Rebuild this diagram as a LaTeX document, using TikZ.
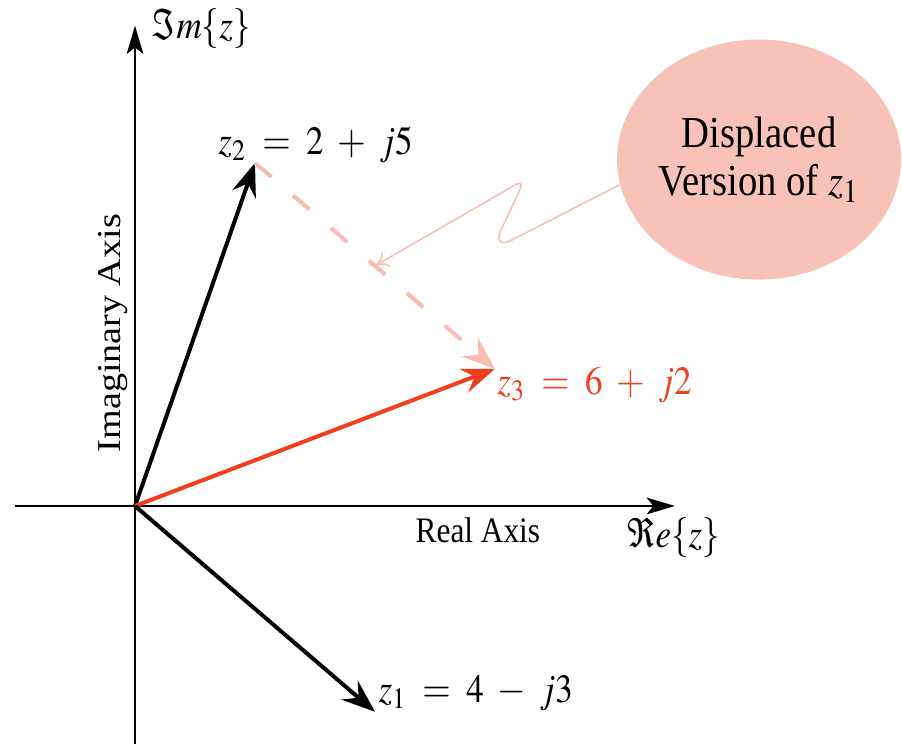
\documentclass[tikz,border=0pt]{standalone}
\usepackage{mathptmx}
\usepackage{fontspec}
\setmainfont{Liberation Serif}
\usetikzlibrary{arrows.meta,shapes.geometric,calc}
\DeclareSymbolFont{cmops}{OT1}{cmr}{m}{n}
\DeclareSymbolFont{cmsym}{OMS}{cmsy}{m}{n}
\DeclareMathSymbol{=}{\mathrel}{cmops}{"3D}
\DeclareMathSymbol{+}{\mathbin}{cmops}{"2B}
\DeclareMathSymbol{-}{\mathbin}{cmsym}{"00}
\thickmuskip=8mu plus 2mu\relax
\medmuskip=7mu plus 2mu minus 2mu\relax
\definecolor{vred}{RGB}{240,62,30}
\definecolor{vpink}{RGB}{248,188,178}
\definecolor{bubblefill}{RGB}{248,194,184}
\tikzset{
  axisline/.style={line width=0.65pt,-{Stealth[length=8.5pt,width=5pt,inset=2pt]}},
  vecline/.style={line width=1.2pt,-{Stealth[length=10pt,width=7.5pt,inset=3.5pt]}},
  dashvec/.style={vpink,line width=1.2pt,dash pattern=on 6.5pt off 8.5pt,-{Stealth[length=10pt,width=7.5pt,inset=3.5pt]}},
  snakeline/.style={vpink,line width=0.45pt,-{To[length=4pt,width=5pt]}},
  bubble/.style={ellipse,fill=bubblefill,minimum width=84pt,minimum height=63pt,inner sep=0pt,align=center,font=\fontsize{11.6}{12.5}\selectfont},
  lbl/.style={inner sep=0pt,anchor=base west,font=\fontsize{10.5}{12}\selectfont}
}
\begin{document}
\begin{tikzpicture}[x=18pt,y=18pt,yscale=1.1433,transform shape]
\useasboundingbox (-2.25,-3.455) rectangle (12.783,7.376);
\coordinate (O) at (0,0);
\coordinate (z1) at (4,-3);
\coordinate (z2) at (2,5);
\coordinate (z3) at (6,2);
\coordinate (xs) at (-2,0);
\coordinate (xe) at (9,0);
\coordinate (ys) at (0,-3.5);
\coordinate (ye) at (0,7);
% axes
\draw[axisline] (xs) -- (xe);
\draw[axisline] (ys) -- (ye);
\node[lbl] (imlbl) at (0.283,6.82) {$\Im m\{z\}$};
\node[lbl] (relbl) at (8.2,-0.598) {$\Re e\{z\}$};
\node[lbl,font=\fontsize{9.4}{11}\selectfont] (realaxis) at (4.667,-0.539) {Real Axis};
\node[inner sep=0pt,rotate=90] (imagaxis) at (-0.37,2.52) {Imaginary Axis};
% vectors
\draw[vecline] (O) -- (z2);
\draw[vecline,vred] (O) -- (z3);
\draw[vecline] (O) -- (z1);
\draw[dashvec] (z2) -- (z3);
\coordinate (mid) at ($(z2)!0.5!(z3)$);
% labels
\node[lbl] (z2lbl) at (1.38,5.12) {$z_2 = 2 + j5$};
\node[lbl,text=vred] (z3lbl) at (6.03,1.62) {$z_3 = 6 + j2$};
\node[lbl] (z1lbl) at (4.05,-2.87) {$z_1 = 4 - j3$};
% bubble
\node[bubble] (bub) at (10.4,5.05) {Displaced\\Version of $z_1$};
\draw[snakeline] (bub.189) -- (6.283,3.878)
  .. controls (6.017,3.761) and (6.033,3.936) .. (6.133,4.082)
  -- (6.367,4.519)
  .. controls (6.483,4.723) and (6.45,4.752) .. (6.25,4.636)
  -- (mid);
\end{tikzpicture}
\end{document}
